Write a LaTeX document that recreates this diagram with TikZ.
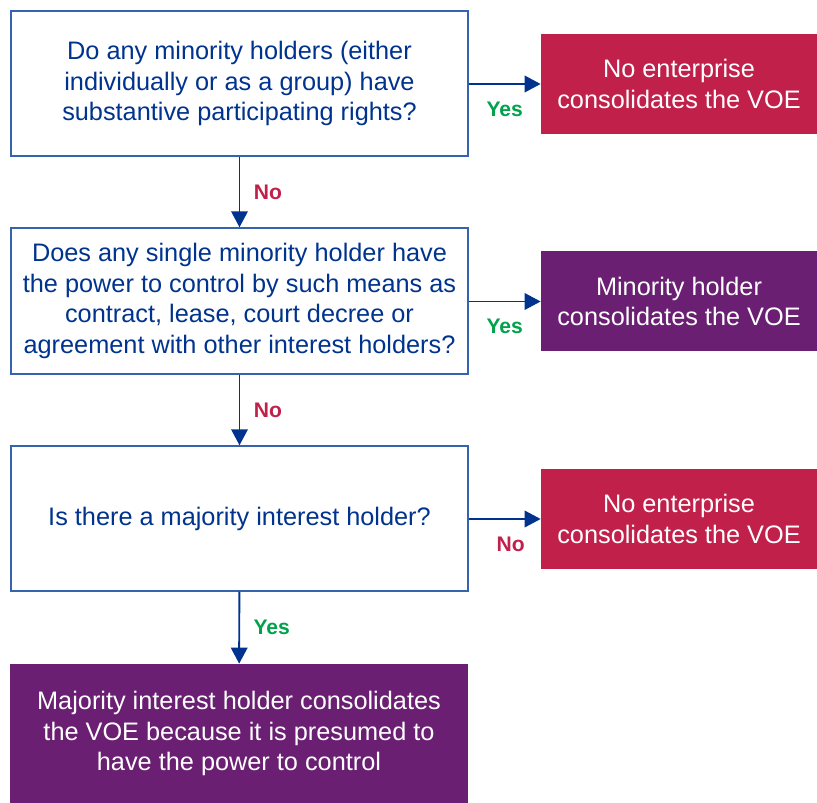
\documentclass[tikz,border=0pt]{standalone}
\usepackage{fontspec}
\setmainfont{Liberation Sans}
\usetikzlibrary{arrows.meta, positioning}
\definecolor{kblue}{HTML}{00338D}
\definecolor{lineblue}{HTML}{3563AE}
\definecolor{kred}{HTML}{C1204B}
\definecolor{kpurple}{HTML}{6A1F72}
\definecolor{kgreen}{HTML}{00A24B}
\begin{document}
\begin{tikzpicture}[
    question/.style={rectangle, draw=lineblue, line width=0.8pt, text=kblue, align=center,
        minimum width=9.14cm, font=\fontsize{14.4}{17.3}\selectfont},
    outcome/.style={rectangle, fill=#1, text=white, align=center,
        minimum width=5.52cm, minimum height=2cm, font=\fontsize{14.4}{17.3}\selectfont},
    flow/.style={-{Triangle[length=0.32cm, width=0.33cm]}, kblue, line width=1.1pt},
    yes label/.style={font=\fontsize{12}{14}\selectfont\bfseries, text=kgreen},
    no label/.style={font=\fontsize{12}{14}\selectfont\bfseries, text=kred}
]
    \useasboundingbox (0,0) rectangle (16.34,-16.06);

    % questions
    \node[question, minimum height=2.9cm] (q1) at (4.79, -1.67)
        {Do any minority holders (either\\individually or as a group) have\\substantive participating rights?};
    \node[question, minimum height=2.92cm] (q2) at (4.79, -6.02)
        {Does any single minority holder have\\the power to control by such means as\\contract, lease, court decree or\\agreement with other interest holders?};
    \node[question, minimum height=2.9cm] (q3) at (4.79, -10.37)
        {Is there a majority interest holder?};
    \node[outcome=kpurple, minimum width=9.16cm, minimum height=2.78cm] (majority) at (4.78, -14.67)
        {Majority interest holder consolidates\\the VOE because it is presumed to\\have the power to control};

    % outcomes
    \node[outcome=kred] (none1) at (13.58, -1.68) {No enterprise\\consolidates the VOE};
    \node[outcome=kpurple] (minority) at (13.58, -6.03) {Minority holder\\consolidates the VOE};
    \node[outcome=kred] (none2) at (13.58, -10.38) {No enterprise\\consolidates the VOE};

    % arrows
    \draw[flow] (q1.east |- none1) -- node[yes label, below=0.22cm] {Yes} (none1.west);
    \draw[flow] (q2.east |- minority) -- node[yes label, below=0.22cm] {Yes} (minority.west);
    \draw[flow] (q3.east |- none2) -- node[no label, below=0.22cm, xshift=0.12cm] {No} (none2.west);
    \draw[flow] (q1) -- node[no label, right=0.15cm] {No} (q2);
    \draw[flow] (q2) -- node[no label, right=0.15cm] {No} (q3);
    \draw[flow] (q3) -- node[yes label, right=0.15cm] {Yes} (majority);
\end{tikzpicture}
\end{document}
